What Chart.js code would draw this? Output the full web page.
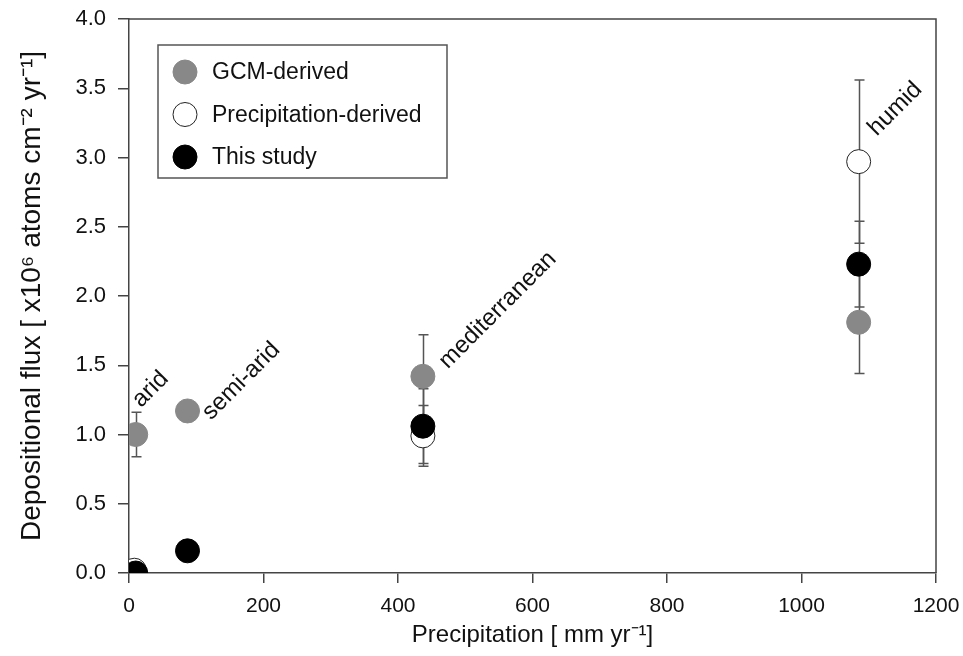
<!DOCTYPE html>
<html>
<head>
<meta charset="utf-8">
<script src="https://cdn.jsdelivr.net/npm/chart.js@4.4.1/dist/chart.umd.min.js"></script>
<style>
  html, body { margin: 0; padding: 0; background: #fff; }
  #wrap { width: 963px; height: 656px; }
</style>
</head>
<body>
<div id="wrap"><canvas id="chart" width="963" height="656"></canvas></div>
<script>
// Depositional flux vs precipitation, four climate zones

const siteNames = ['arid', 'semi-arid', 'mediterranean', 'humid'];
const sitePrecip = [10, 87, 437, 1085];

// GCM-derived flux and error
const gcmFlux = [1.00, 1.17, 1.42, 1.81];
const gcmErr = [0.16, 0, 0.30, 0.37];

// precipitation-derived (open circles); semi-arid is not shown
const precipX = [8, 437, 1085];
const precipFlux = [0.02, 0.99, 2.97];
const precipErr = [0, 0.22, 0.59];

// this study
const studyFlux = [0.00, 0.16, 1.06, 2.23];
const studyErr = [0, 0, 0.27, 0.31];

// where the rotated zone labels start (data units)
const labelX = [18, 122, 474, 1112];
const labelY = [1.19, 1.10, 1.47, 3.15];

const xTicks = [0, 200, 400, 600, 800, 1000, 1200];
const yTicks = [0, 0.5, 1, 1.5, 2, 2.5, 3, 3.5, 4];

const FONT = "'Liberation Sans', Arial, sans-serif";
const AXIS = '#444';

function toPoints(xs, ys, errs) {
    return xs.map((x, i) => ({ x: x, y: ys[i], err: errs[i] }));
}

const errorBars = {
    id: 'errorBars',
    beforeDatasetsDraw(chart) {
        const { ctx, scales: { x, y } } = chart;
        ctx.save();
        ctx.strokeStyle = '#555';
        ctx.lineWidth = 1.5;
        chart.data.datasets.forEach(ds => {
            ds.data.forEach(p => {
                if (!p.err) return;
                const px = Math.round(x.getPixelForValue(p.x)) + 0.5;
                const top = y.getPixelForValue(p.y + p.err);
                const bot = y.getPixelForValue(p.y - p.err);
                ctx.beginPath();
                ctx.moveTo(px, top);
                ctx.lineTo(px, bot);
                ctx.moveTo(px - 5, top);
                ctx.lineTo(px + 5, top);
                ctx.moveTo(px - 5, bot);
                ctx.lineTo(px + 5, bot);
                ctx.stroke();
            });
        });
        ctx.restore();
    }
};

const frameAndText = {
    id: 'frameAndText',
    afterDraw(chart) {
        const { ctx, chartArea: a, scales: { x, y } } = chart;
        ctx.save();
        // top and right edges of the frame
        ctx.strokeStyle = AXIS;
        ctx.lineWidth = 1.5;
        ctx.beginPath();
        ctx.moveTo(a.left, a.top);
        ctx.lineTo(a.right, a.top);
        ctx.lineTo(a.right, a.bottom);
        ctx.stroke();

        // zone labels, rotated 45 degrees
        ctx.fillStyle = '#111';
        ctx.font = '24px ' + FONT;
        ctx.textAlign = 'left';
        ctx.textBaseline = 'alphabetic';
        siteNames.forEach((name, i) => {
            ctx.save();
            ctx.translate(x.getPixelForValue(labelX[i]), y.getPixelForValue(labelY[i]));
            ctx.rotate(-Math.PI / 4);
            ctx.fillText(name, 0, 0);
            ctx.restore();
        });

        // legend box
        const bx = a.left + 29, by = a.top + 26, bw = 289, bh = 133;
        ctx.fillStyle = '#fff';
        ctx.fillRect(bx, by, bw, bh);
        ctx.strokeStyle = '#555';
        ctx.lineWidth = 1.5;
        ctx.strokeRect(bx, by, bw, bh);
        ctx.font = '23px ' + FONT;
        chart.data.datasets.forEach((ds, i) => {
            const cy = by + 27 + i * 42.5;
            ctx.beginPath();
            ctx.arc(bx + 27, cy, 12, 0, Math.PI * 2);
            ctx.fillStyle = ds.backgroundColor;
            ctx.fill();
            ctx.lineWidth = 1;
            ctx.strokeStyle = ds.borderColor;
            ctx.stroke();
            ctx.fillStyle = '#111';
            ctx.textBaseline = 'middle';
            ctx.fillText(ds.label, bx + 54, cy + 1);
        });
        ctx.restore();
    }
};

const ctx = document.getElementById('chart').getContext('2d');
new Chart(ctx, {
    type: 'scatter',
    data: {
        datasets: [
            {
                label: 'GCM-derived',
                data: toPoints(sitePrecip, gcmFlux, gcmErr),
                backgroundColor: '#888888',
                borderColor: '#888888',
                order: 1
            },
            {
                label: 'Precipitation-derived',
                data: toPoints(precipX, precipFlux, precipErr),
                backgroundColor: '#ffffff',
                borderColor: '#222',
                order: 2
            },
            {
                label: 'This study',
                data: toPoints(sitePrecip, studyFlux, studyErr),
                backgroundColor: '#000000',
                borderColor: '#000000',
                order: 0
            }
        ]
    },
    options: {
        responsive: false,
        animation: false,
        layout: { padding: { left: 0, top: 19, right: 27, bottom: 0 } },
        elements: { point: { radius: 12, borderWidth: 1, hoverRadius: 12 } },
        plugins: {
            legend: { display: false },
            tooltip: { enabled: false }
        },
        scales: {
            x: {
                type: 'linear',
                min: 0,
                max: 1200,
                afterBuildTicks: s => { s.ticks = xTicks.map(v => ({ value: v })); },
                afterFit: s => { s.height = 83; s.paddingLeft = 0; s.paddingRight = 0; },
                ticks: {
                    font: { family: FONT, size: 21 },
                    color: '#111',
                    padding: 11,
                    maxRotation: 0,
                    callback: v => String(v)
                },
                grid: { drawOnChartArea: false, tickLength: 10, color: AXIS, lineWidth: 1.5 },
                border: { color: AXIS, width: 1.5 },
                title: {
                    display: true,
                    text: 'Precipitation [ mm yr\u207B\u00B9]',
                    font: { family: FONT, size: 24 },
                    color: '#111',
                    padding: { top: 0, bottom: 6 }
                }
            },
            y: {
                min: 0,
                max: 4,
                afterBuildTicks: s => { s.ticks = yTicks.map(v => ({ value: v })); },
                afterFit: s => { s.width = 129; s.paddingTop = 0; s.paddingBottom = 0; },
                ticks: {
                    font: { family: FONT, size: 22 },
                    color: '#111',
                    padding: 12,
                    callback: v => Number(v).toFixed(1)
                },
                grid: { drawOnChartArea: false, tickLength: 11, color: AXIS, lineWidth: 1.5 },
                border: { color: AXIS, width: 1.5 },
                title: {
                    display: true,
                    text: 'Depositional flux [ x10\u2076 atoms cm\u207B\u00B2 yr\u207B\u00B9]',
                    font: { family: FONT, size: 28 },
                    color: '#111',
                    padding: { top: 15, bottom: 0 }
                }
            }
        }
    },
    plugins: [errorBars, frameAndText]
});
</script>
</body>
</html>
